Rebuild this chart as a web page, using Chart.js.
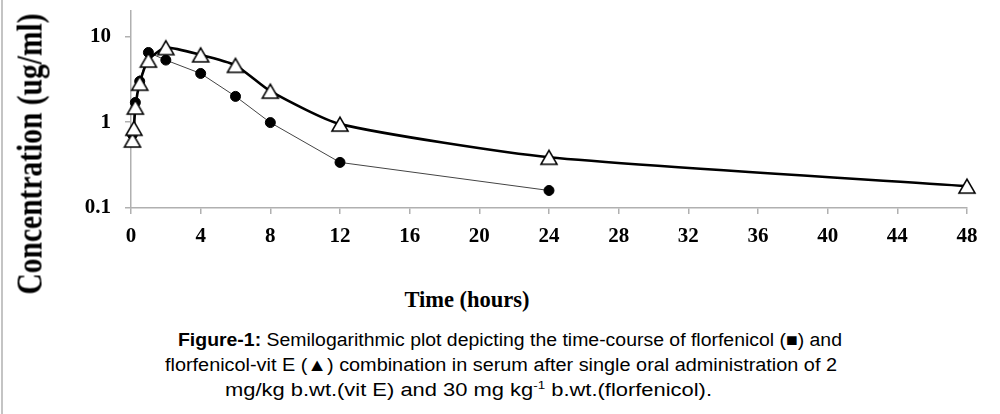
<!DOCTYPE html>
<html>
<head>
<meta charset="utf-8">
<script src="https://cdn.jsdelivr.net/npm/chart.js@4"></script>
<style>
	body { margin: 0; background: #fff; width: 1000px; height: 414px; overflow: hidden; position: relative; }
	#wrap { position: absolute; left: 0; top: -16px; width: 1000px; height: 276px; }
	#leftBorder { position: absolute; left: 1px; top: 0; width: 2px; height: 414px; background: #c4c4c4; }
	#yTitle {
		position: absolute; left: 30px; top: 154px;
		transform: translate(-50%, -50%) rotate(-90deg) scaleY(1.18);
		font: bold 29.5px "Liberation Serif", "Times New Roman", serif; white-space: nowrap; color: #000;
	}
	#xTitle {
		position: absolute; left: 467px; top: 300px; transform: translate(-50%, -50%);
		font: bold 22.5px "Liberation Serif", "Times New Roman", serif; white-space: nowrap; color: #000;
	}
	.cap {
		position: absolute; white-space: nowrap; color: #000;
		font: 18px "Liberation Sans", Arial, sans-serif; line-height: 18px;
		transform-origin: 0 0;
	}
	.cap sup { font-size: 11px; line-height: 0; }
</style>
</head>
<body>
<div id="leftBorder"></div>
<div id="wrap"><canvas id="myChart" width="1000" height="276"></canvas></div>
<div id="yTitle">Concentration (ug/ml)</div>
<div id="xTitle">Time (hours)</div>
<div class="cap" data-left="178" data-base="346" data-w="664"><b>Figure-1:</b> Semilogarithmic plot depicting the time-course of florfenicol (&#9632;) and</div>
<div class="cap" data-left="165" data-base="371" data-w="672">florfenicol-vit E (&#9650;) combination in serum after single oral administration of 2</div>
<div class="cap" data-left="225" data-base="396" data-w="487">mg/kg b.wt.(vit E) and 30 mg kg<sup>-1</sup> b.wt.(florfenicol).</div>
<script>
// sampling times (hours) and serum levels (ug/ml)
const timeFlor = [0.083, 0.25, 0.5, 1, 2, 4, 6, 8, 12, 24];
const concFlor = [0.72, 1.7, 3.0, 6.5, 5.3, 3.7, 2.0, 0.99, 0.34, 0.16];

const timeVitE = [0.083, 0.167, 0.25, 0.5, 1, 2, 4, 6, 8, 12, 24, 48];
const concVitE = [0.62, 0.85, 1.5, 2.85, 5.3, 7.4, 6.1, 4.6, 2.3, 0.95, 0.39, 0.18];

const yTicks = [0.1, 1, 10];

// caption lines: place each one and stretch it to the width in the figure
document.querySelectorAll(".cap").forEach(function (el) {
	var w = el.getBoundingClientRect().width;
	el.style.left = el.dataset.left + "px";
	el.style.top = (el.dataset.base - 15) + "px";
	el.style.transform = "scaleX(" + (el.dataset.w / w) + ")";
});

function toPoints(xs, ys) {
	return xs.map((x, i) => ({ x: x, y: ys[i] }));
}

// white triangle, drawn by hand so the fill stays white
function makeTriangle(size) {
	var c = document.createElement("canvas");
	c.width = size + 4;
	c.height = size + 4;
	var g = c.getContext("2d");
	var h = size * 0.87;
	g.beginPath();
	g.moveTo(c.width / 2, (c.height - h) / 2);
	g.lineTo(c.width / 2 + size / 2, (c.height + h) / 2);
	g.lineTo(c.width / 2 - size / 2, (c.height + h) / 2);
	g.closePath();
	g.fillStyle = "#fff";
	g.fill();
	g.lineWidth = 1.6;
	g.strokeStyle = "#000";
	g.stroke();
	return c;
}

var axisGray = "#b0b0b0";
var tickFont = { family: "'Liberation Serif', 'Times New Roman', serif", size: 21, weight: "bold" };

var ctx = document.getElementById("myChart").getContext("2d");
new Chart(ctx, {
	type: "line",
	data: {
		datasets: [
			{
				label: "florfenicol-vit E",
				data: toPoints(timeVitE, concVitE),
				borderColor: "#000",
				borderWidth: 2.6,
				tension: 0.2,
				clip: false,
				pointStyle: makeTriangle(16),
				pointRadius: 8,
			},
			{
				label: "florfenicol",
				data: toPoints(timeFlor, concFlor),
				borderColor: "#444",
				borderWidth: 1,
				tension: 0,
				clip: false,
				pointStyle: "circle",
				pointRadius: 5,
				pointBackgroundColor: "#000",
				pointBorderColor: "#000",
			},
		],
	},
	options: {
		responsive: false,
		animation: false,
		layout: { padding: { top: 0, right: 33, bottom: 0, left: 0 } },
		plugins: { legend: { display: false }, tooltip: { enabled: false } },
		scales: {
			x: {
				type: "linear",
				min: 0,
				max: 48,
				ticks: { stepSize: 4, color: "#000", font: tickFont, padding: 10 },
				grid: { drawOnChartArea: false, tickLength: 6, color: axisGray, lineWidth: 1.5 },
				border: { color: axisGray, width: 1.5 },
				afterFit: function (scale) { scale.height = 52; },
			},
			y: {
				type: "logarithmic",
				min: 0.1,
				max: 20,
				afterBuildTicks: function (scale) {
					scale.ticks = yTicks.map((v) => ({ value: v }));
				},
				ticks: {
					color: "#000",
					font: tickFont,
					padding: 14,
					callback: function (v) { return String(v); },
				},
				grid: { drawOnChartArea: false, tickLength: 6, color: axisGray, lineWidth: 1.5 },
				border: { color: axisGray, width: 1.5 },
				afterFit: function (scale) { scale.width = 131; },
			},
		},
	},
});
</script>
</body>
</html>
